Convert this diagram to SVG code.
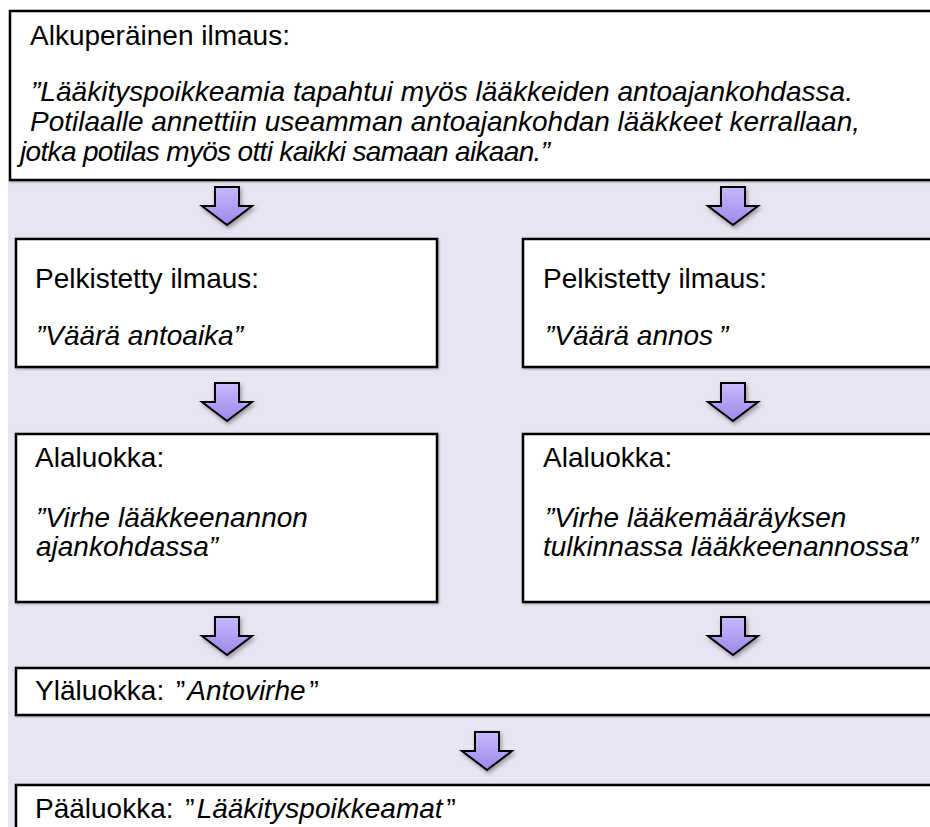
<svg xmlns="http://www.w3.org/2000/svg" width="930" height="827" viewBox="0 0 930 827">
  <defs>
    <linearGradient id="arrowFill" x1="0" y1="0" x2="0" y2="1">
      <stop offset="0" stop-color="#c7b9fc"/>
      <stop offset="1" stop-color="#9c88ea"/>
    </linearGradient>
    <filter id="soft" x="-30%" y="-30%" width="160%" height="160%">
      <feDropShadow dx="1.5" dy="2.5" stdDeviation="2" flood-color="#000" flood-opacity="0.35"/>
    </filter>
    <filter id="edge" x="-5%" y="-5%" width="110%" height="110%">
      <feDropShadow dx="1" dy="1" stdDeviation="0.8" flood-color="#000" flood-opacity="0.3"/>
    </filter>
    <!-- block arrow, centred on x=0, top at y=0 -->
    <path id="downArrow" d="M -12 0 H 12 V 19 H 25 L 0 38 L -25 19 H -12 Z"/>
  </defs>
  <style>
    .box { fill: #ffffff; stroke: #000000; stroke-width: 2.5; filter: url(#edge); }
    .txt { font-family: "Liberation Sans", Arial, Helvetica, sans-serif; font-size: 28px; fill: #000000; }
    .it { font-style: italic; }
    .arrow { fill: url(#arrowFill); stroke: #000000; stroke-width: 2; stroke-linejoin: miter; filter: url(#soft); }
  </style>

  <!-- page backgrounds -->
  <rect x="0" y="0" width="930" height="827" fill="#ffffff"/>
  <rect x="8" y="180" width="922" height="647" fill="#e7e5f1"/>

  <g id="alkuperainen">
    <rect class="box" x="10" y="11" width="940" height="169"/>
    <text class="txt" x="30" y="45">Alkuperäinen ilmaus:</text>
    <text class="txt it" x="31" y="101" textLength="822" lengthAdjust="spacingAndGlyphs">”Lääkityspoikkeamia tapahtui myös lääkkeiden antoajankohdassa.</text>
    <text class="txt it" x="30" y="131" textLength="830" lengthAdjust="spacingAndGlyphs">Potilaalle annettiin useamman antoajankohdan lääkkeet kerrallaan,</text>
    <text class="txt it" x="20" y="161" textLength="530" lengthAdjust="spacing">jotka potilas myös otti kaikki samaan aikaan.”</text>
  </g>

  <g id="pelkistetty-1">
    <rect class="box" x="16" y="239" width="421" height="128"/>
    <text class="txt" x="35" y="288">Pelkistetty ilmaus:</text>
    <text class="txt it" x="36" y="345">”Väärä antoaika”</text>
  </g>

  <g id="pelkistetty-2">
    <rect class="box" x="523" y="239" width="427" height="128"/>
    <text class="txt" x="543" y="288">Pelkistetty ilmaus:</text>
    <text class="txt it" x="545" y="345">”Väärä annos<tspan dx="6">”</tspan></text>
  </g>

  <g id="alaluokka-1">
    <rect class="box" x="16" y="434" width="421" height="168"/>
    <text class="txt" x="35" y="467">Alaluokka:</text>
    <text class="txt it" x="36" y="527">”Virhe lääkkeenannon</text>
    <text class="txt it" x="36" y="556">ajankohdassa”</text>
  </g>

  <g id="alaluokka-2">
    <rect class="box" x="523" y="434" width="427" height="168"/>
    <text class="txt" x="543" y="467">Alaluokka:</text>
    <text class="txt it" x="545" y="527">”Virhe lääkemääräyksen</text>
    <text class="txt it" x="543" y="556">tulkinnassa lääkkeenannossa”</text>
  </g>

  <g id="ylaluokka">
    <rect class="box" x="16" y="668" width="934" height="47"/>
    <text class="txt" x="35" y="700">Yläluokka: <tspan dx="4">”</tspan><tspan class="it" dx="2">Antovirhe</tspan><tspan dx="4">”</tspan></text>
  </g>

  <g id="paaluokka">
    <rect class="box" x="16" y="785" width="934" height="60"/>
    <text class="txt" x="35" y="818">Pääluokka: <tspan dx="4">”</tspan><tspan class="it" dx="2">Lääkityspoikkeamat</tspan><tspan dx="4">”</tspan></text>
  </g>

  <g id="connectors">
    <use href="#downArrow" class="arrow" x="227" y="187"/>
    <use href="#downArrow" class="arrow" x="733" y="187"/>
    <use href="#downArrow" class="arrow" x="227" y="383"/>
    <use href="#downArrow" class="arrow" x="733" y="383"/>
    <use href="#downArrow" class="arrow" x="227" y="617"/>
    <use href="#downArrow" class="arrow" x="733" y="617"/>
    <use href="#downArrow" class="arrow" x="487" y="732"/>
  </g>
</svg>
